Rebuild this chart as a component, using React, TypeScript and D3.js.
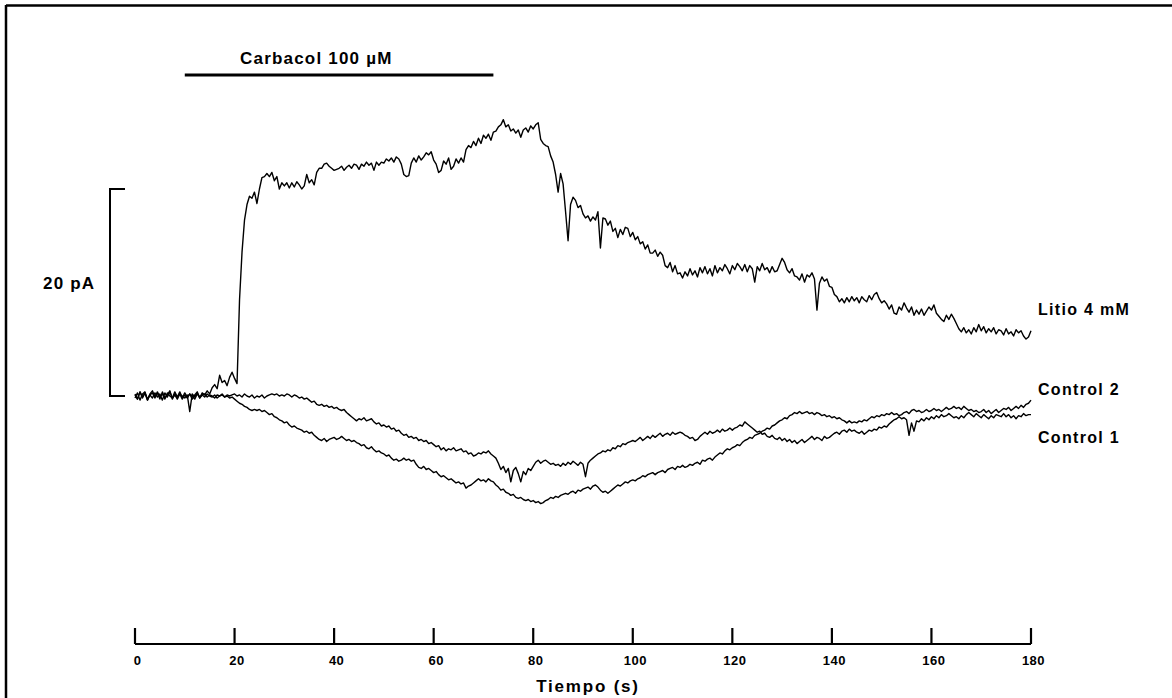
import React from "react";
import * as d3 from "d3";

// ---- data (pA, sampled every 0.5 s from 0 to 180 s) ----
const sampleInterval = 0.5;
const tickValues = [0, 20, 40, 60, 80, 100, 120, 140, 160, 180];
const carbacolOn = 10;
const carbacolOff = 72;
const scaleBarPA = 20;

const litio = [
  0.1, -0.3, 0.4, -0.2, 0.3, -0.4, 0.2, 0.5, -0.1, 0.3,
  -0.3, 0.4, -0.2, 0.1, 0.5, -0.3, 0.2, -0.1, 0.4, -0.2,
  0.3, -0.1, 0.2, -0.3, 0.1, 0.4, -0.2, 0.3, 0.1, 0.5,
  0.2, 0.8, 1.1, 0.7, 2.0, 1.3, 1.5, 1.0, 1.8, 2.3,
  1.7, 1.2, 9.3, 13.9, 17.0, 18.5, 19.3, 19.1, 19.7, 18.6,
  20.0, 21.1, 21.2, 21.5, 21.2, 21.6, 20.8, 21.2, 20.0, 20.6,
  20.3, 20.6, 20.1, 20.6, 20.2, 20.7, 20.4, 20.0, 20.3, 21.4,
  20.6, 20.9, 20.4, 21.6, 22.0, 22.0, 22.4, 22.5, 22.2, 22.0,
  21.8, 21.9, 22.0, 22.2, 21.8, 22.1, 22.3, 22.0, 22.4, 22.3,
  21.9, 22.4, 22.2, 22.6, 22.3, 22.5, 21.8, 22.6, 22.3, 22.6,
  22.5, 22.9, 22.7, 23.0, 22.6, 23.1, 22.9, 22.4, 21.4, 21.2,
  21.3, 22.5, 23.0, 22.6, 23.2, 22.8, 23.1, 23.5, 23.3, 23.6,
  22.8, 22.4, 21.6, 21.8, 22.7, 22.4, 23.0, 21.9, 22.2, 22.9,
  22.5, 23.0, 22.6, 23.8, 24.2, 24.0, 24.6, 24.2, 24.9, 24.4,
  25.2, 24.9, 25.3, 24.7, 25.5, 25.6, 26.0, 26.2, 26.7, 26.0,
  26.2, 25.6, 25.8, 25.4, 25.7, 25.0, 25.7, 25.9, 25.5, 26.1,
  25.8, 26.2, 26.4, 24.8, 24.4, 24.2, 24.1, 23.2, 22.6, 21.4,
  19.7, 21.5, 20.5, 17.8, 15.0, 18.5, 19.2, 18.9, 18.2, 18.4,
  17.6, 17.2, 17.4, 16.9, 17.3, 17.0, 17.8, 14.3, 17.2, 17.1,
  16.5, 16.9, 15.9, 16.2, 15.3, 16.1, 15.6, 16.3, 16.2, 15.4,
  15.8, 15.1, 15.4, 14.7, 14.9, 14.2, 14.6, 13.8, 13.8, 14.1,
  13.5, 13.9, 13.6, 12.6, 12.4, 12.9, 12.0, 12.6, 11.8, 11.9,
  11.4, 12.0, 11.6, 12.3, 11.7, 12.1, 11.5, 12.4, 11.9, 12.5,
  11.8, 12.3, 11.6, 12.6, 11.9, 12.4, 12.1, 12.7, 12.3, 11.8,
  12.6, 12.2, 12.8, 12.5, 12.1, 12.7, 12.0, 12.6, 12.3, 11.0,
  12.5, 12.1, 12.8, 12.2, 12.4, 11.9, 12.5, 12.0, 12.1, 12.7,
  13.3, 12.9, 12.2, 11.9, 12.3, 11.6, 11.5, 11.2, 11.8, 11.0,
  11.7, 11.5, 11.9, 11.3, 8.3, 10.9, 11.5, 11.1, 11.3, 10.6,
  10.5, 9.8, 9.6, 9.1, 9.4, 9.0, 9.5, 9.1, 9.6, 9.2,
  9.5, 9.0, 9.6, 9.3, 9.1, 9.7, 9.3, 9.8, 10.0, 9.4,
  9.0, 9.2, 8.9, 8.4, 8.8, 8.0, 7.9, 8.6, 8.3, 9.0,
  8.5, 8.1, 8.6, 7.8, 8.3, 7.9, 8.4, 7.8, 8.2, 8.6,
  8.3, 8.8, 8.0, 7.7, 7.4, 7.2, 7.8, 7.4, 7.9, 7.5,
  7.0, 6.5, 6.2, 6.6, 6.1, 6.4, 6.0, 6.6, 6.2, 6.9,
  6.3, 6.7, 6.1, 6.5, 6.2, 6.6, 6.0, 6.4, 6.3, 5.9,
  6.5, 6.0, 6.2, 5.8, 6.4, 6.1, 6.3, 5.8, 5.5, 5.7,
  6.3,
];

const control1 = [
  0.2, -0.3, 0.4, -0.1, 0.3, -0.4, 0.1, 0.3, -0.2, 0.4,
  -0.1, 0.2, -0.3, 0.3, 0.0, -0.2, 0.4, -0.1, 0.2, -0.3,
  0.1, -0.2, 0.2, 0.0, -0.3, 0.2, -0.1, 0.1, 0.2, -0.1,
  0.1, 0.0, -0.2, 0.1, 0.0, 0.2, -0.1, 0.1, 0.0, 0.1,
  0.2, 0.0, 0.1, -0.1, 0.2, 0.0, -0.1, 0.1, -0.2, 0.0,
  -0.1, 0.1, -0.2, 0.0, 0.1, 0.2, 0.1, 0.2, 0.0, 0.1,
  0.0, 0.2, 0.1, -0.1, 0.1, 0.0, -0.2, -0.1, -0.3, -0.2,
  -0.4, -0.6, -0.5, -0.8, -0.9, -0.8, -1.0, -0.9, -1.1, -1.0,
  -1.2, -1.1, -1.3, -1.4, -1.3, -1.6, -1.8, -2.0, -2.2, -2.4,
  -2.2, -2.3, -2.1, -2.4, -2.3, -2.2, -2.5, -2.7, -2.6, -2.9,
  -2.8, -3.0, -2.9, -3.2, -3.1, -3.4, -3.3, -3.6, -3.8, -3.7,
  -4.0, -3.9, -4.1, -4.0, -4.3, -4.2, -4.4, -4.3, -4.6, -4.5,
  -4.7, -4.9, -4.8, -5.2, -5.0, -5.3, -5.1, -5.2, -5.0, -5.3,
  -5.2, -5.1, -5.4, -5.3, -5.6, -5.5, -5.8, -5.7, -5.5, -5.6,
  -5.4, -5.5, -5.3, -5.6, -5.8, -6.0, -6.5, -7.1, -6.8, -7.4,
  -7.0, -8.3, -7.2, -6.9, -7.5, -8.3, -7.3, -7.6, -7.0, -7.2,
  -6.8, -6.4, -6.2, -6.5, -6.3, -6.2, -6.4, -6.6, -6.5, -6.7,
  -6.6, -6.8, -6.5, -6.7, -6.4, -6.6, -6.3, -6.5, -6.7, -6.4,
  -6.6, -7.8, -6.5, -6.2, -6.0, -5.8, -5.6, -5.5, -5.3, -5.4,
  -5.2, -5.3, -5.0, -5.1, -4.8, -4.9, -4.6, -4.7, -4.5, -4.4,
  -4.3, -4.4, -4.2, -4.0, -4.3, -4.1, -3.9, -4.1, -3.8, -4.0,
  -3.8, -3.6, -3.9, -3.7, -3.6, -3.8, -3.5, -3.7, -3.6, -3.5,
  -3.6, -3.8, -3.9, -4.1, -4.0, -4.3, -4.2, -3.9, -3.7, -3.5,
  -3.7, -3.4, -3.6, -3.5, -3.3, -3.5, -3.2, -3.4, -3.3, -3.1,
  -3.3, -3.1, -3.0, -2.8, -2.9, -2.5, -2.7, -2.9, -3.1, -3.3,
  -3.5, -3.4, -3.7, -3.6, -3.9, -4.0, -3.8, -4.1, -4.2, -4.0,
  -4.3, -4.1, -4.4, -4.2, -4.5, -4.3, -4.6, -4.4, -4.2, -4.5,
  -4.3, -4.1, -3.9, -4.2, -4.0, -4.1, -4.3, -3.9, -4.1, -4.0,
  -3.8, -3.6, -3.5, -3.7, -3.4, -3.3, -3.5, -3.2, -3.4, -3.3,
  -3.5, -3.6, -3.4, -3.7, -3.5, -3.3, -3.4, -3.2, -3.3, -3.0,
  -3.1, -2.9, -3.0, -2.7, -2.5, -2.3, -2.2, -2.0, -2.2, -2.1,
  -2.3, -3.8, -2.6, -3.4, -2.4, -2.5, -2.2, -2.4, -2.1, -2.3,
  -2.0, -2.2, -1.9, -2.1, -1.8, -2.0, -1.9, -1.7, -1.9, -2.1,
  -2.0, -2.2, -1.9, -2.1, -1.8, -1.6, -1.8, -2.0, -1.7, -1.9,
  -2.1, -1.8, -2.0, -2.2, -1.9, -2.1, -1.8, -1.9, -2.0, -1.7,
  -2.0, -1.8, -2.1, -1.9, -2.2, -1.9, -2.0, -1.7, -1.9, -1.8,
  -1.8,
];

const control2 = [
  -0.2, 0.3, -0.4, 0.2, 0.4, -0.3, 0.1, -0.2, 0.3, -0.1,
  0.2, -0.4, 0.3, -0.1, 0.4, -0.2, 0.1, -0.3, 0.2, 0.0,
  -0.2, 0.1, -1.5, 0.2, -0.1, 0.3, -0.2, 0.1, -0.1, 0.2,
  0.0, -0.1, 0.1, -0.2, 0.0, 0.1, -0.1, 0.0, -0.2, -0.1,
  -0.3, -0.5, -0.7, -0.8, -1.0, -1.1, -1.3, -1.4, -1.3, -1.4,
  -1.3, -1.5, -1.4, -1.6, -1.8, -1.7, -2.0, -2.1, -2.3, -2.4,
  -2.6, -2.5, -2.8, -3.0, -2.9, -3.1, -3.2, -3.3, -3.5, -3.4,
  -3.6, -3.5, -3.8, -4.0, -4.2, -4.3, -4.1, -4.4, -4.2, -4.1,
  -4.0, -4.2, -4.1, -3.9, -4.1, -4.3, -4.2, -4.4, -4.3, -4.5,
  -4.6, -4.8, -4.7, -5.0, -5.1, -4.9, -5.2, -5.4, -5.3, -5.5,
  -5.6, -5.8, -5.7, -6.0, -6.2, -6.1, -6.3, -6.2, -6.0, -6.2,
  -6.1, -6.3, -6.2, -6.6, -6.9, -7.0, -6.8, -7.1, -7.0, -7.2,
  -7.4, -7.3, -7.6, -7.8, -7.7, -7.9, -8.1, -8.0, -8.2, -8.4,
  -8.3, -8.5, -8.4, -8.9, -8.7, -8.6, -8.4, -8.2, -8.0, -8.2,
  -8.1, -8.3, -8.0, -8.2, -8.3, -8.6, -8.8, -9.1, -9.0, -9.3,
  -9.4, -9.6, -9.5, -9.8, -9.9, -9.8, -10.0, -10.1, -10.0, -10.2,
  -10.1, -10.3, -10.2, -10.4, -10.3, -10.1, -10.0, -9.8, -9.9, -9.7,
  -9.8, -9.6, -9.5, -9.4, -9.5, -9.3, -9.2, -9.4, -9.1, -9.2,
  -9.0, -8.9, -8.8, -9.0, -8.7, -8.6, -8.8, -9.1, -9.3, -9.2,
  -9.4, -9.2, -9.0, -8.8, -8.6, -8.7, -8.5, -8.3, -8.4, -8.2,
  -8.1, -8.2, -8.0, -7.9, -7.7, -7.8, -7.6, -7.5, -7.4, -7.6,
  -7.4, -7.3, -7.2, -7.4, -7.1, -7.0, -6.9, -7.1, -6.8, -6.9,
  -6.7, -6.9, -6.8, -6.6, -6.7, -6.5, -6.4, -6.6, -6.2, -6.3,
  -6.1, -6.0, -6.2, -5.9, -5.7, -5.5, -5.6, -5.3, -5.1, -5.2,
  -5.0, -4.9, -4.7, -4.8, -4.5, -4.3, -4.2, -4.0, -4.1, -3.8,
  -3.7, -3.6, -3.4, -3.3, -3.1, -3.2, -2.9, -2.8, -2.6, -2.4,
  -2.3, -2.1, -2.2, -1.9, -1.8, -1.6, -1.7, -1.5, -1.7, -1.6,
  -1.5, -1.7, -1.6, -1.8, -1.6, -1.7, -1.9, -1.8, -2.0, -1.9,
  -2.1, -2.0, -2.2, -2.1, -2.3, -2.4, -2.6, -2.4, -2.6, -2.5,
  -2.6, -2.4, -2.5, -2.3, -2.4, -2.2, -2.0, -2.1, -1.9, -2.0,
  -1.8, -1.9, -1.7, -1.8, -1.6, -1.8, -1.7, -1.9, -1.8, -1.6,
  -1.5, -1.7, -1.4, -1.3, -1.5, -1.4, -1.6, -1.5, -1.3, -1.5,
  -1.4, -1.2, -1.4, -1.3, -1.5, -1.3, -1.1, -1.3, -1.2, -1.0,
  -1.2, -1.1, -1.3, -1.0, -1.2, -1.4, -1.3, -1.5, -1.4, -1.6,
  -1.5, -1.3, -1.6, -1.4, -1.7, -1.5, -1.3, -1.6, -1.4, -1.2,
  -1.3, -1.1, -1.4, -1.2, -1.0, -1.2, -0.9, -1.1, -0.8, -0.7,
  -0.4,
];

const traceLabels = [
  { name: "Litio 4 mM", series: litio, dy: -16 },
  { name: "Control 2", series: control2, dy: -5 },
  { name: "Control 1", series: control1, dy: 28 },
];

const W = 1172;
const H = 698;
const FONT = "'Liberation Sans', Arial, Helvetica, sans-serif";

export default function App() {
  const x = d3.scaleLinear().domain([0, 180]).range([135, 1031]);
  const y = d3.scaleLinear().domain([0, 20]).range([396, 189]);
  const axisY = 644;

  const line = d3
    .line<number>()
    .x((_, i) => x(i * sampleInterval))
    .y((d) => y(d));

  return (
    <svg
      width={W}
      height={H}
      style={{ position: "absolute", left: 0, top: 0, background: "#fff" }}
      fontFamily={FONT}
    >
      <rect x={0} y={0} width={W} height={H} fill="#fff" />
      {/* partial frame */}
      <line x1={6} y1={5.5} x2={W} y2={5.5} stroke="#000" strokeWidth={2.5} />
      <line x1={6} y1={5} x2={6} y2={H} stroke="#000" strokeWidth={2.5} />

      {/* carbacol bar */}
      <line
        x1={x(carbacolOn)}
        x2={x(carbacolOff)}
        y1={75}
        y2={75}
        stroke="#000"
        strokeWidth={3}
      />
      <text x={240} y={64} fontSize={17} fontWeight="bold" letterSpacing={1.2}>
        Carbacol 100 µM
      </text>

      {/* scale bar */}
      <path
        d={`M125,${y(scaleBarPA)}H110V${y(0)}H125`}
        fill="none"
        stroke="#000"
        strokeWidth={2}
      />
      <text x={43} y={289} fontSize={17} fontWeight="bold" letterSpacing={1.2}>
        20 pA
      </text>

      {/* traces */}
      {[control1, control2, litio].map((s, i) => (
        <path
          key={i}
          d={line(s) || ""}
          fill="none"
          stroke="#000"
          strokeWidth={1.4}
          strokeLinejoin="round"
        />
      ))}

      {/* trace labels */}
      {traceLabels.map((l) => (
        <text
          key={l.name}
          x={1038}
          y={y(l.series[l.series.length - 1]) + l.dy}
          fontSize={16}
          fontWeight="bold"
          letterSpacing={1.3}
        >
          {l.name}
        </text>
      ))}

      {/* time axis */}
      <line x1={x(0)} x2={x(180)} y1={axisY} y2={axisY} stroke="#000" strokeWidth={2.2} />
      {tickValues.map((t) => (
        <g key={t}>
          <line x1={x(t)} x2={x(t)} y1={axisY} y2={axisY - 16} stroke="#000" strokeWidth={2.2} />
          <text
            x={x(t) + 2.5}
            y={665}
            textAnchor="middle"
            fontSize={13}
            fontWeight="bold"
            letterSpacing={0.5}
          >
            {t}
          </text>
        </g>
      ))}
      <text x={588} y={692} textAnchor="middle" fontSize={17} fontWeight="bold" letterSpacing={1.8}>
        Tiempo (s)
      </text>
    </svg>
  );
}
